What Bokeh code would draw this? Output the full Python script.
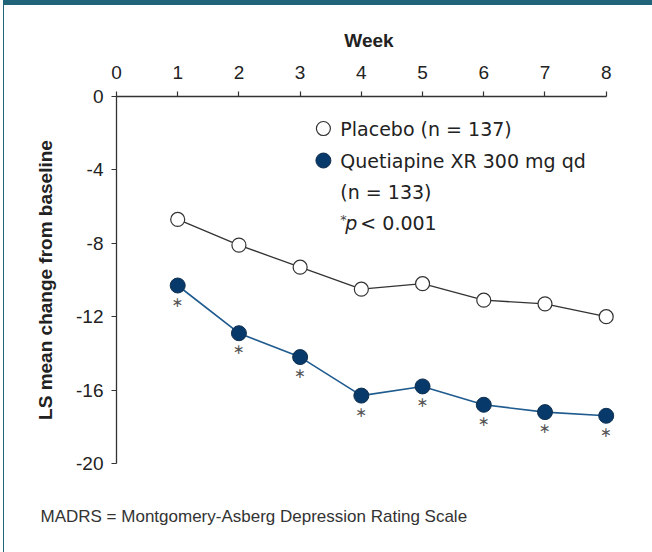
from bokeh.plotting import figure
from bokeh.models import FixedTicker, Label, Range1d, Title
from bokeh.core.properties import value
from bokeh.embed import file_html
from bokeh.resources import INLINE

# ---- data ----
weeks = [1, 2, 3, 4, 5, 6, 7, 8]
placebo = [-6.7, -8.1, -9.3, -10.5, -10.2, -11.1, -11.3, -12.0]
quetiapine = [-10.3, -12.9, -14.2, -16.3, -15.8, -16.8, -17.2, -17.4]
x_ticks = [0, 1, 2, 3, 4, 5, 6, 7, 8]
y_ticks = [0, -4, -8, -12, -16, -20]
x_title = "Week"
y_title = "LS mean change from baseline"
legend_placebo = "Placebo (n = 137)"
legend_quet_1 = "Quetiapine XR 300 mg qd"
legend_quet_2 = "(n = 133)"
sig_marker = "*"
footnote = "MADRS = Montgomery-Asberg Depression Rating Scale"

TEAL = "#1f6478"
NAVY = "#07396a"
QLINE = "#1f5b8e"
DARK = "#333333"
TXT = "#222222"
FONT = "DejaVu Sans"
AFONT = "Liberation Sans"

p = figure(
    frame_width=505, frame_height=367,
    x_range=Range1d(0, 8.25), y_range=Range1d(-20, 0),
    x_axis_location="above", y_axis_location="left",
    output_backend="svg", toolbar_location=None,
    min_border_left=112, min_border_right=31,
    min_border_top=91, min_border_bottom=89,
)
p.styles = {
    "border-top": f"5px solid {TEAL}",
    "border-left": f"1px solid {TEAL}",
    "margin-left": "3px",
}
p.outline_line_color = None
p.grid.visible = False
p.background_fill_color = "white"
p.border_fill_color = "white"

xa = p.xaxis[0]
xa.ticker = FixedTicker(ticks=x_ticks)
xa.bounds = (0, 8)
xa.axis_label = x_title
ya = p.yaxis[0]
ya.ticker = FixedTicker(ticks=y_ticks)
ya.bounds = (-20, 0)
ya.axis_label = y_title
ya.major_label_overrides = {t: str(t) for t in y_ticks}

for ax in (xa, ya):
    ax.axis_line_color = DARK
    ax.axis_line_width = 1.3
    ax.major_tick_line_color = DARK
    ax.major_tick_line_width = 1.2
    ax.major_tick_in = 0
    ax.major_tick_out = 5
    ax.minor_tick_line_color = None
    ax.major_label_text_font = AFONT
    ax.major_label_text_font_size = "19px"
    ax.major_label_text_color = TXT
    ax.axis_label_text_font = AFONT
    ax.axis_label_text_font_size = "19px"
    ax.axis_label_text_font_style = "bold"
    ax.axis_label_text_color = TXT

xa.major_label_standoff = 13
xa.axis_label_standoff = 12
ya.major_label_standoff = 8
ya.axis_label_standoff = 17

# series
p.line(weeks, placebo, line_color=DARK, line_width=1.3)
p.scatter(weeks, placebo, size=14, fill_color="white", line_color=DARK, line_width=1.2)
p.line(weeks, quetiapine, line_color=QLINE, line_width=1.6)
p.scatter(weeks, quetiapine, size=15, fill_color=NAVY, line_color="#10304f", line_width=1)
p.text(weeks, quetiapine, text=["\u2217"] * len(weeks), y_offset=16,
       text_align="center", text_baseline="middle",
       text_font=value(FONT), text_font_size="14px", text_color="#555555")

# legend (manual)
leg_x = 3.38
txt_x = 3.657
p.scatter([leg_x], [-1.744], size=14, fill_color="white", line_color=DARK, line_width=1.2)
p.scatter([leg_x], [-3.488], size=15, fill_color=NAVY, line_color="#10304f", line_width=1)
for yy, t in [(-1.744, legend_placebo), (-3.488, legend_quet_1), (-5.23, legend_quet_2)]:
    p.add_layout(Label(x=txt_x, y=yy, text=t, text_baseline="middle",
                       text_font=FONT, text_font_size="19px", text_color=TXT))
p.add_layout(Label(x=txt_x, y=-6.72, text=sig_marker, text_baseline="middle",
                   text_font=FONT, text_font_size="13px", text_color="#444444"))
p.add_layout(Label(x=txt_x, x_offset=5, y=-6.87, text="p", text_baseline="middle",
                   text_font=FONT, text_font_size="19px", text_font_style="italic",
                   text_color=TXT))
p.add_layout(Label(x=txt_x, x_offset=20, y=-6.87, text="< 0.001", text_baseline="middle",
                   text_font=FONT, text_font_size="19px", text_color=TXT))

# footnote as a title below the frame (blank first line pushes it down)
note = Title(text="\n" + footnote, align="left", offset=-76, standoff=44,
             text_font="Liberation Sans", text_font_size="17px",
             text_font_style="normal", text_color="#333333")
p.add_layout(note, "below")

open("out.html", "w").write(file_html(p, INLINE))
